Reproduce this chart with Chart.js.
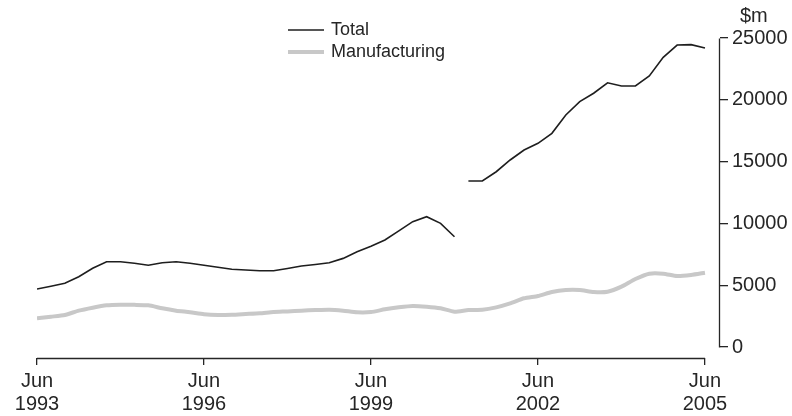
<!DOCTYPE html>
<html>
<head>
<meta charset="utf-8">
<title>Total and Manufacturing, $m</title>
<script src="https://cdn.jsdelivr.net/npm/chart.js@4.4.1/dist/chart.umd.min.js"></script>
<style>
  html, body { margin: 0; padding: 0; background: #fff; }
  canvas { display: block; }
</style>
</head>
<body>
<canvas id="chart" width="792" height="416"></canvas>
<script>
// Quarterly, Jun 1993 to Jun 2005
const quarters = [];
const monthNames = ["Jun", "Sep", "Dec", "Mar"];
for (let i = 0; i <= 48; i++) {
  quarters.push(monthNames[i % 4] + " " + (1993 + Math.floor((i + 1) / 4)));
}

// $m
const total = [
  4690, 4920, 5150, 5690, 6370, 6900, 6900, 6770, 6610, 6820,
  6900, 6770, 6610, 6450, 6290, 6230, 6170, 6170, 6350, 6550,
  6680, 6820, 7170, 7710, 8150, 8660, 9400, 10140, 10540, 10000,
  8920, 13430, 13430, 14180, 15130, 15940, 16480, 17290, 18770, 19850,
  20530, 21380, 21120, 21120, 21930, 23440, 24430, 24460, 24190
];
const manufacturing = [
  2320, 2450, 2590, 2940, 3180, 3370, 3420, 3410, 3370, 3130,
  2940, 2810, 2650, 2590, 2610, 2670, 2730, 2830, 2880, 2940,
  2990, 3020, 2940, 2810, 2830, 3050, 3210, 3320, 3260, 3130,
  2860, 2990, 3010, 3210, 3530, 3940, 4130, 4450, 4610, 4610,
  4450, 4470, 4880, 5500, 5930, 5930, 5740, 5830, 6010
];
const totalBreakAfter = 30; // series break between Dec 2000 and Mar 2001

const xTickIdx = [0, 12, 24, 36, 48];
const yTicks = [0, 5000, 10000, 15000, 20000, 25000];
const yUnit = "$m";

const textColor = "#262626";
const axisColor = "#262626";
const totalColor = "#1e1e1e";
const mfgColor = "#c8c8c8";
const fontFamily = "'Liberation Sans', Arial, sans-serif";

// x runs a bit past Jun 2005 so the right axis sits clear of the last point
const xMax = 49.08;
const yMin = -890;
const yMax = 25000;

const toPoints = arr => arr.map((v, i) => ({ x: i, y: v }));

// axis lines, unit label and a stacked line legend
const extras = {
  id: "extras",
  afterDraw(chart) {
    const { ctx, chartArea } = chart;
    const x = chart.scales.x, y = chart.scales.y;
    ctx.save();
    ctx.strokeStyle = axisColor;
    ctx.lineWidth = 1.3;
    ctx.beginPath();
    const ax = Math.round(chartArea.right) - 0.5;
    ctx.moveTo(ax, Math.round(y.getPixelForValue(yMax)) + 0.5);
    ctx.lineTo(ax, Math.round(y.getPixelForValue(0)) + 0.5);
    const ay = Math.round(chartArea.bottom) + 0.5;
    ctx.moveTo(x.getPixelForValue(xTickIdx[0]), ay);
    ctx.lineTo(x.getPixelForValue(xTickIdx[xTickIdx.length - 1]), ay);
    ctx.stroke();

    ctx.fillStyle = textColor;
    ctx.font = "20px " + fontFamily;
    ctx.textAlign = "left";
    ctx.textBaseline = "middle";
    ctx.fillText(yUnit, 740, 16);

    ctx.font = "18px " + fontFamily;
    chart.data.datasets.forEach((ds, i) => {
      const ly = 30 + i * 22;
      ctx.strokeStyle = ds.borderColor;
      ctx.lineWidth = ds.borderWidth;
      ctx.beginPath();
      ctx.moveTo(288, ly);
      ctx.lineTo(324, ly);
      ctx.stroke();
      ctx.fillText(ds.label, 331, ly);
    });
    ctx.restore();
  }
};

const ctx = document.getElementById("chart").getContext("2d");
const chart = new Chart(ctx, {
  type: "line",
  data: {
    datasets: [
      {
        label: "Total",
        data: toPoints(total),
        borderColor: totalColor,
        borderWidth: 1.6,
        pointRadius: 0,
        tension: 0,
        segment: {
          borderColor: c => (c.p0DataIndex === totalBreakAfter ? "rgba(0,0,0,0)" : totalColor)
        }
      },
      {
        label: "Manufacturing",
        data: toPoints(manufacturing),
        borderColor: mfgColor,
        borderWidth: 4,
        pointRadius: 0,
        tension: 0.2
      }
    ]
  },
  options: {
    responsive: false,
    animation: false,
    layout: { padding: { top: 38, left: 37, right: 0, bottom: 0 } },
    plugins: {
      legend: { display: false },
      tooltip: { enabled: false }
    },
    scales: {
      x: {
        type: "linear",
        min: 0,
        max: xMax,
        afterBuildTicks: s => { s.ticks = xTickIdx.map(v => ({ value: v })); },
        afterFit: s => { s.height = 58; },
        border: { display: false },
        grid: { drawOnChartArea: false, drawTicks: true, tickLength: 7, color: axisColor, lineWidth: 1.3 },
        ticks: {
          autoSkip: false,
          maxRotation: 0,
          padding: 5,
          color: textColor,
          font: { family: fontFamily, size: 20, lineHeight: 1.15 },
          callback: v => quarters[v].split(" ")
        }
      },
      y: {
        position: "right",
        min: yMin,
        max: yMax,
        afterBuildTicks: s => { s.ticks = yTicks.map(v => ({ value: v })); },
        afterFit: s => { s.width = 72; },
        border: { display: false },
        grid: { drawOnChartArea: false, drawTicks: true, tickLength: 8, color: axisColor, lineWidth: 1.3 },
        ticks: {
          padding: 4,
          color: textColor,
          font: { family: fontFamily, size: 20 },
          callback: v => String(v)
        }
      }
    }
  },
  plugins: [extras]
});
</script>
</body>
</html>
